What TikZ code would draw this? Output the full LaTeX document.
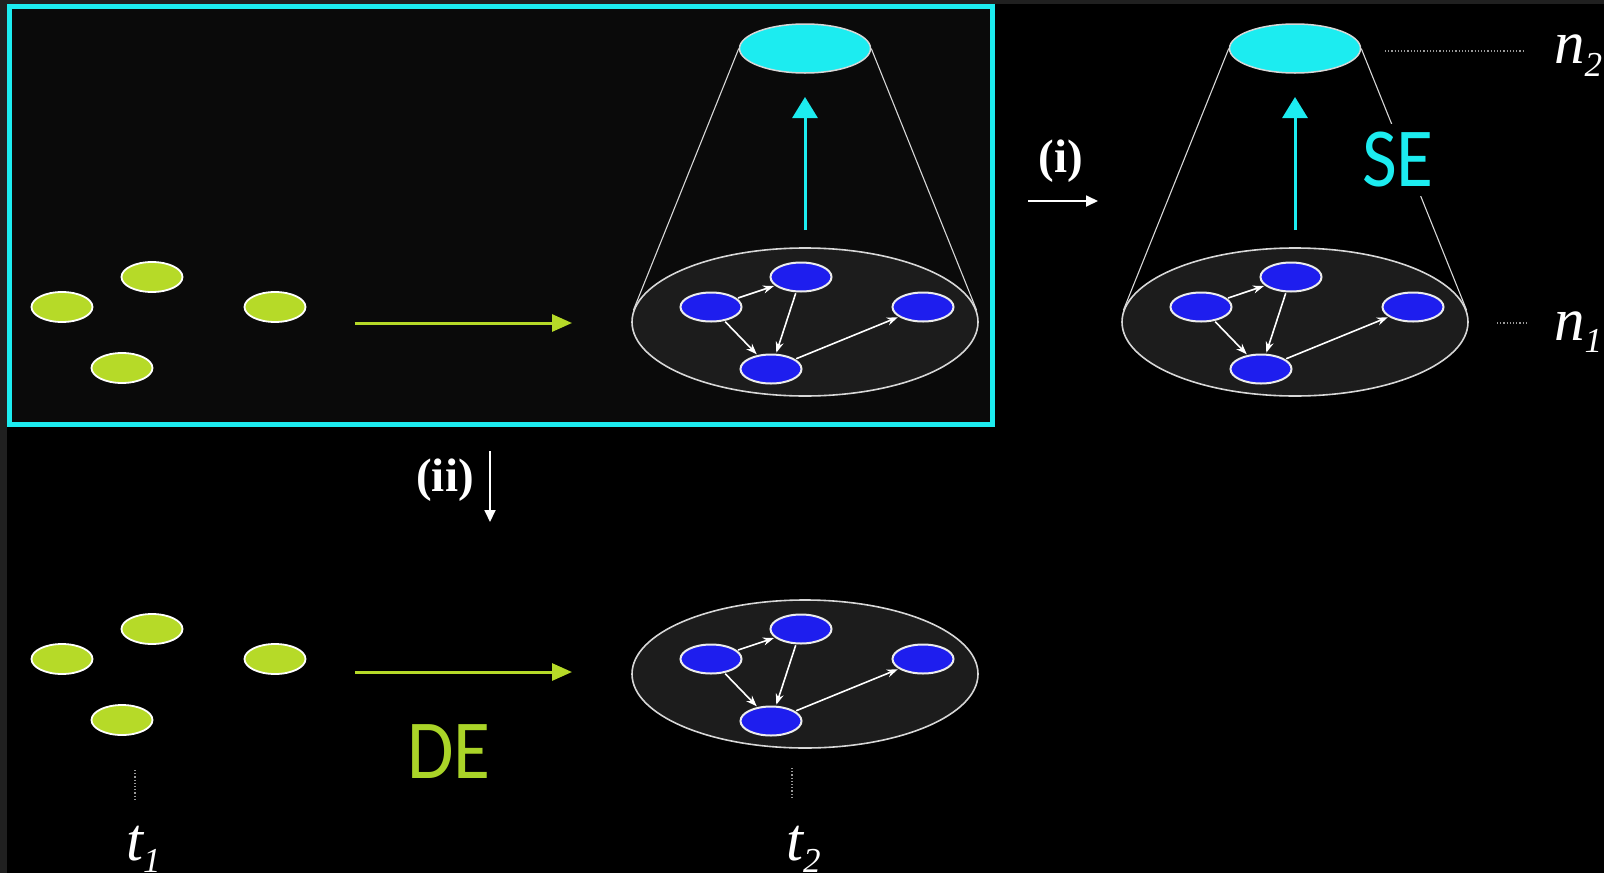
\documentclass[tikz,border=0pt]{standalone}
\usepackage{fontspec}
\setmainfont{Liberation Serif}
\newfontfamily\sansbig{Carlito}
\usetikzlibrary{shapes.geometric,arrows.meta}
\definecolor{cyanc}{RGB}{28,236,240}
\definecolor{greenc}{RGB}{182,218,40}
\definecolor{detext}{RGB}{170,212,40}
\definecolor{bluec}{RGB}{30,30,238}
\definecolor{framec}{RGB}{32,32,32}
\definecolor{boxbg}{RGB}{10,10,10}
\definecolor{basebg}{RGB}{28,28,28}
\definecolor{rimc}{RGB}{215,215,215}
\tikzset{
  seed/.style={ellipse,minimum width=61pt,minimum height=30pt,inner sep=0pt,fill=greenc,draw=white,line width=1.8pt},
  bnode/.style={ellipse,minimum width=61pt,minimum height=29pt,inner sep=0pt,fill=bluec,draw=white!85!gray,line width=2pt},
  basedisk/.style={ellipse,minimum width=346pt,minimum height=148pt,inner sep=0pt,fill=basebg,draw=rimc,line width=1.6pt},
  topdisk/.style={ellipse,minimum width=131pt,minimum height=49pt,inner sep=0pt,fill=cyanc,draw=rimc,line width=1.5pt},
  edgearr/.style={draw=white,line width=1.6pt,-{Stealth[length=11pt,width=8pt]},shorten >=1pt,shorten <=1pt},
  conel/.style={draw=rimc,line width=1.1pt},
  cyanarr/.style={draw=cyanc,line width=3pt,-{Triangle[width=25pt,length=21pt]}},
  greenarr/.style={draw=greenc,line width=3pt,-{Triangle[width=17pt,length=20pt]}},
  whitearr/.style={draw=white,line width=1.8pt,-{Triangle[width=11pt,length=12pt]}},
  dotl/.style={draw=gray!80,line width=1.2pt,dotted},
  bigsans/.style={font=\sansbig\fontsize{84}{90}\selectfont,inner sep=0pt},
  romanlbl/.style={font=\bfseries\fontsize{47}{50}\selectfont,text=white,inner sep=0pt},
  itlbl/.style={font=\itshape\fontsize{61}{64}\selectfont,text=white,inner sep=0pt,anchor=base west}
}
\newcommand\netnodes[3]{%
  \begin{scope}[shift={(#2,#3)}]
    \node[basedisk] (#1base) at (0,0) {};
    \node[bnode] (#1A) at (-94,-15) {};
    \node[bnode] (#1B) at (-4,-45) {};
    \node[bnode] (#1C) at (-34,47) {};
    \node[bnode] (#1D) at (118,-15) {};
    \draw[edgearr] (#1A) -- (#1B);
    \draw[edgearr] (#1A) -- (#1C);
    \draw[edgearr] (#1B) -- (#1C);
    \draw[edgearr] (#1C) -- (#1D);
  \end{scope}}
\newcommand\seedgroup[3]{%
  \begin{scope}[shift={(#2,#3)}]
    \node[seed] (#1a) at (62,0) {};
    \node[seed] (#1b) at (152,-30) {};
    \node[seed] (#1c) at (275,0) {};
    \node[seed] (#1d) at (122,61) {};
  \end{scope}}
\begin{document}
\begin{tikzpicture}[x=1pt,y=-1pt]
  \useasboundingbox (0,0) rectangle (1604,873);
  \fill[framec] (0,0) rectangle (1604,873);
  \fill[black] (7,4) rectangle (1604,873);
  % highlighted box
  \draw[cyanc,line width=5pt,fill=boxbg] (9.5,6.5) rectangle (992.5,424.5);

  % --- top row (inside box) ---
  \seedgroup{s1}{0}{307}
  \coordinate (g1s) at (355,323);
  \coordinate (g1e) at (572,323);
  \draw[greenarr] (g1s) -- (g1e);

  \netnodes{L}{805}{322}
  \node[topdisk] (Ltop) at (805,48.5) {};
  \draw[conel] (Ltop.west) -- (Lbase.176);
  \draw[conel] (Ltop.east) -- (Lbase.4);
  \coordinate (c1s) at (805,230);
  \coordinate (c1e) at (805,97);
  \draw[cyanarr] (c1s) -- (c1e);

  % --- right cone ---
  \netnodes{R}{1295}{322}
  \node[topdisk] (Rtop) at (1295,48.5) {};
  \draw[conel] (Rtop.west) -- (Rbase.176);
  \draw[conel] (Rtop.east) -- (Rbase.4);
  \coordinate (c2s) at (1295,230);
  \coordinate (c2e) at (1295,97);
  \draw[cyanarr] (c2s) -- (c2e);
  \node[bigsans,text=cyanc,fill=black,inner xsep=2pt,inner ysep=8pt] (SE) at (1398,160) {\scalebox{0.9}[1]{SE}};

  % (i) arrow
  \node[romanlbl] (lbli) at (1061,161) {(i)};
  \coordinate (ia) at (1028,201);
  \coordinate (ib) at (1098,201);
  \draw[whitearr] (ia) -- (ib);

  % n labels
  \coordinate (n2a) at (1385,51);
  \coordinate (n2b) at (1523,51);
  \draw[dotl] (n2a) -- (n2b);
  \node[itlbl] (n2) at (1554,63) {n\raisebox{-13pt}{\fontsize{35}{35}\selectfont 2}};
  \coordinate (n1a) at (1497,323);
  \coordinate (n1b) at (1526,323);
  \draw[dotl] (n1a) -- (n1b);
  \node[itlbl] (n1) at (1554,340) {n\raisebox{-12pt}{\fontsize{35}{35}\selectfont 1}};

  % (ii) arrow
  \node[romanlbl] (lblii) at (445,480) {(ii)};
  \coordinate (iia) at (490,451);
  \coordinate (iib) at (490,522);
  \draw[whitearr] (iia) -- (iib);

  % --- bottom row ---
  \seedgroup{s2}{0}{659}
  \coordinate (g2s) at (355,672);
  \coordinate (g2e) at (572,672);
  \draw[greenarr] (g2s) -- (g2e);
  \node[bigsans,text=detext] (DE) at (449,752) {\scalebox{0.9}[1]{DE}};

  \netnodes{B}{805}{674}

  % t labels
  \coordinate (t1a) at (135,770);
  \coordinate (t1b) at (135,800);
  \draw[dotl] (t1a) -- (t1b);
  \node[itlbl] (t1) at (126,860) {t\raisebox{-12pt}{\fontsize{35}{35}\selectfont 1}};
  \coordinate (t2a) at (792,768);
  \coordinate (t2b) at (792,798);
  \draw[dotl] (t2a) -- (t2b);
  \node[itlbl] (t2) at (786,860) {t\raisebox{-12pt}{\fontsize{35}{35}\selectfont 2}};
\end{tikzpicture}
\end{document}
